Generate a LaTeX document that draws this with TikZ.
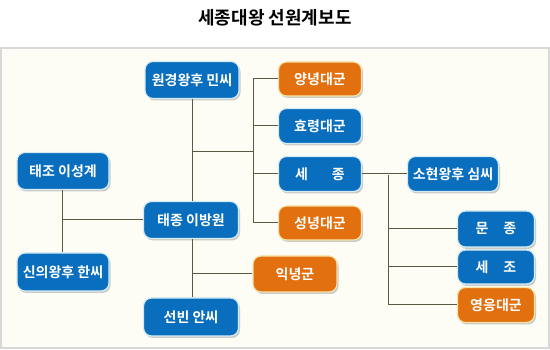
\documentclass[tikz,border=0pt]{standalone}
\usepackage{fontspec}
\newfontfamily\kr{Noto Sans CJK KR}[BoldFont={* Bold}]
\usetikzlibrary{shadows}
\definecolor{bluebox}{HTML}{0A6EBE}
\definecolor{orangebox}{HTML}{E2700F}
\definecolor{blueedge}{HTML}{D4ECF4}
\definecolor{orangeedge}{HTML}{F6E2A6}
\definecolor{panel}{HTML}{FDFDF6}
\definecolor{panelline}{HTML}{D8D8D8}
\definecolor{link}{HTML}{5A5A42}
\tikzset{
  box/.style={rounded corners=8pt, line width=1.2pt, minimum height=36pt,
    text=white, font=\kr\bfseries\fontsize{14}{16}\selectfont, inner sep=0pt,
    drop shadow={shadow xshift=1.5pt, shadow yshift=-2pt, fill=black!40, opacity=0.5}},
  bluenode/.style={box, fill=bluebox, draw=blueedge},
  orangenode/.style={box, fill=orangebox, draw=orangeedge},
  conn/.style={draw=link, line width=1pt},
}
\begin{document}
\begin{tikzpicture}[x=1pt,y=-1pt]
\useasboundingbox (0,0) rectangle (550,350);
\fill[white] (0,0) rectangle (550,350);
\node (title) at (275,18) {\kr\bfseries\fontsize{18}{20}\selectfont 세종대왕 선원계보도};
\draw[panelline, fill=panel, line width=1.2pt] (1,48) rectangle (549,348);
% nodes
\node[bluenode, minimum width=94pt, minimum height=37pt] (wk) at (192,80) {원경왕후 민씨};
\node[orangenode, minimum width=83pt, minimum height=34pt] (yn) at (320,79) {양녕대군};
\node[bluenode, minimum width=83pt, minimum height=35pt] (hr) at (320,126) {효령대군};
\node[bluenode, minimum width=83pt, minimum height=35pt] (sj) at (320,174) {세\hspace{24pt}종};
\node[orangenode, minimum width=83pt, minimum height=34pt] (sn) at (320,223) {성녕대군};
\node[orangenode, minimum width=84pt, minimum height=36pt] (in) at (295,274) {익녕군};
\node[bluenode, minimum width=91pt, minimum height=35pt] (sh) at (453,174) {소현왕후 심씨};
\node[bluenode, minimum width=77pt, minimum height=36pt] (mj) at (496,229) {문\hspace{15pt}종};
\node[bluenode, minimum width=77pt, minimum height=34pt] (sjo) at (496,267) {세\hspace{15pt}조};
\node[orangenode, minimum width=77pt, minimum height=35pt] (ye) at (496,305) {영응대군};
\node[bluenode, minimum width=92pt, minimum height=37pt] (tj) at (63,171) {태조 이성계};
\node[bluenode, minimum width=92pt, minimum height=38pt] (sw) at (63,272) {신의왕후 한씨};
\node[bluenode, minimum width=95pt, minimum height=37pt] (tjj) at (191,220) {태종 이방원};
\node[bluenode, minimum width=95pt, minimum height=38pt] (sb) at (191,317) {선빈 안씨};
% junction coordinates
\coordinate (a1) at (62,220);
\coordinate (b1) at (192,152);
\coordinate (b2) at (253,152);
\coordinate (b3) at (192,274);
\coordinate (c1) at (388,175);
% connectors
\draw[conn] (tj.south -| a1) -- (sw.north -| a1);
\draw[conn] (a1) -- (tjj.west);
\draw[conn] (wk.south -| b1) -- (tjj.north -| b1);
\draw[conn] (tjj.south -| b1) -- (sb.north -| b1);
\draw[conn] (b1) -- (b2);
\draw[conn] (yn.west -| b2) -- (sn.west -| b2);
\draw[conn] (yn.west -| b2) -- (yn.west);
\draw[conn] (hr.west -| b2) -- (hr.west);
\draw[conn] (sj.west -| b2) -- (sj.west);
\draw[conn] (sn.west -| b2) -- (sn.west);
\draw[conn] (b3) -- (in.west);
\draw[conn] (sj.east) -- (sh.west);
\draw[conn] (c1) -- (ye.west -| c1);
\draw[conn] (mj.west -| c1) -- (mj.west);
\draw[conn] (sjo.west -| c1) -- (sjo.west);
\draw[conn] (ye.west -| c1) -- (ye.west);
\end{tikzpicture}
\end{document}
